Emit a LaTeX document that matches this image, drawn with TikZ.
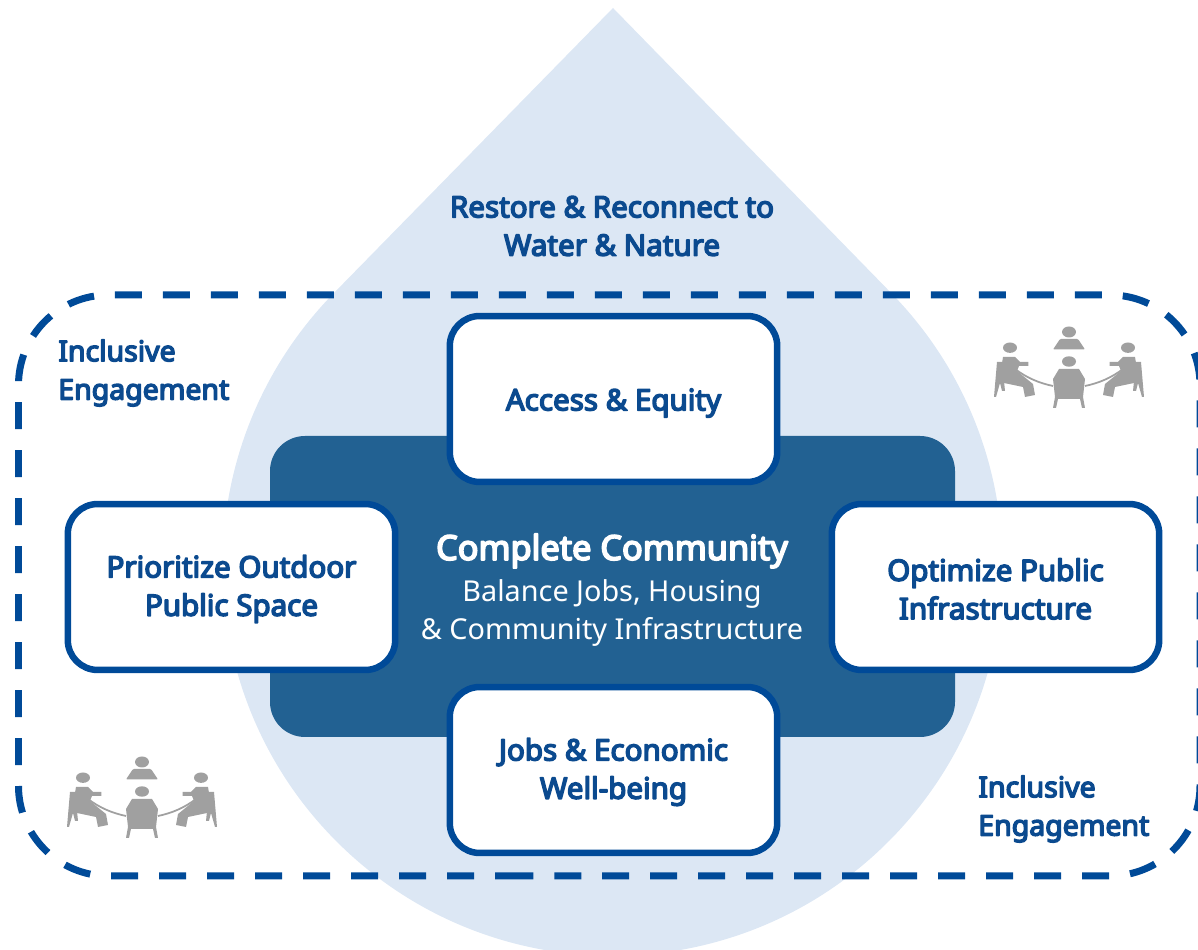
\documentclass[tikz,border=0pt]{standalone}
\usepackage{fontspec}
\setmainfont{Noto Sans}[BoldFont={Noto Sans},BoldFeatures={FakeBold=5}]
\definecolor{dropblue}{HTML}{DCE7F4}
\definecolor{coreblue}{HTML}{226192}
\definecolor{edgeblue}{HTML}{004A98}
\definecolor{textblue}{HTML}{0B4A8F}
\definecolor{icongray}{HTML}{A0A0A0}
\newcommand{\lowerline}{\rule{0pt}{15pt}}
\newcommand{\loweraccess}{\rule{0pt}{17pt}}
\tikzset{
	boxtext/.style={font=\fontsize{16.8}{21.8}\selectfont\bfseries,text=textblue,align=center},
	sidetext/.style={boxtext,font=\fontsize{16.2}{21.8}\selectfont\bfseries,align=left,anchor=west,inner sep=0pt},
	whitebox/.style={boxtext,draw=edgeblue,fill=white,line width=0.13cm,rounded corners=0.6cm,minimum width=6.55cm,minimum height=3.32cm,inner sep=0pt},
	pics/meeting/.style={code={
		\fill[icongray] (0,35) ellipse (7 and 5.5);
		\fill[icongray,rounded corners=0.02cm] (-16,17.5)--(-9,28)--(9,28)--(16,17.5)--cycle;
		\fill[icongray] (0,5.5) ellipse (7 and 5.2);
		\fill[icongray] (-16,-12)--(-10,-2)--(10,-2)--(16,-12)--(14,-30)--(16,-41)--(13,-41)--(11,-32)--(-11,-32)--(-13,-41)--(-16,-41)--(-14,-30)--cycle;
		\foreach \s in {-1,1}{
			\begin{scope}[xscale=\s]
				\fill[icongray] (59,19.3) ellipse (7 and 5.2);
				\draw[icongray,line width=0.035cm] (54,-2) .. controls (42,-11) and (30,-16) .. (16,-19);
				\fill[icongray] (66,10)--(54,10)--(49,5)--(40.7,5)--(40.7,1)--(50,1)--(52,-4)--(36,-17)--(34,-28)--(44,-30)--(46,-20)--(65,-16)--(68,-2)--cycle;
				\fill[icongray] (72,5)--(75,-30)--(73,-30)--(69,-16)--(67,-24)--(64,-24)--(65,-14)--(67,5)--cycle;
			\end{scope}
		}
	}}
}
\begin{document}
\begin{tikzpicture}[line join=round,x=0.02cm,y=0.02cm]
	\useasboundingbox (0,0) rectangle (1198,950);
	\clip (0,0) rectangle (1198,950);
	% drop
	\fill[dropblue] (613,942) -- (332,655) arc (136:404:390) -- cycle;
	% dashed frame
	\draw[edgeblue,line width=0.14cm,dashed,dash pattern=on 0.54cm off 0.42cm,dash phase=0.06cm,rounded corners=1.8cm] (609,74) -- (18.5,74) -- (18.5,655) -- (1200,655) -- (1200,74) -- cycle;
	% centre
	\fill[coreblue,rounded corners=0.7cm] (270,213) rectangle (955,514);
	\node[boxtext,text=white,font=\fontsize{19.5}{21.8}\selectfont\bfseries] (title) at (612,399) {Complete Community};
	\node[boxtext,text=white,font=\fontsize{16.4}{21.8}\selectfont] (subtitle) at (612,337) {Balance Jobs, Housing\\\& Community Infrastructure};
	% boxes
	\node[whitebox] (access) at (613.5,551) {\loweraccess Access \& Equity};
	\node[whitebox] (outdoor) at (231.5,363) {\lowerline Prioritize Outdoor\\Public Space};
	\node[whitebox] (infrastructure) at (995.5,363) {\lowerline Optimize Public\\Infrastructure};
	\node[whitebox] (jobs) at (613.5,180) {\lowerline Jobs \& Economic\\Well-being};
	% labels
	\node[boxtext] (water) at (612,724) {Restore \& Reconnect to\\Water \& Nature};
	\node[sidetext] (engageleft) at (58,577) {Inclusive\\Engagement};
	\node[sidetext] (engageright) at (978,141) {Inclusive\\Engagement};
	% icons
	\pic at (1069,583) {meeting};
	\pic at (142,153) {meeting};
\end{tikzpicture}
\end{document}
